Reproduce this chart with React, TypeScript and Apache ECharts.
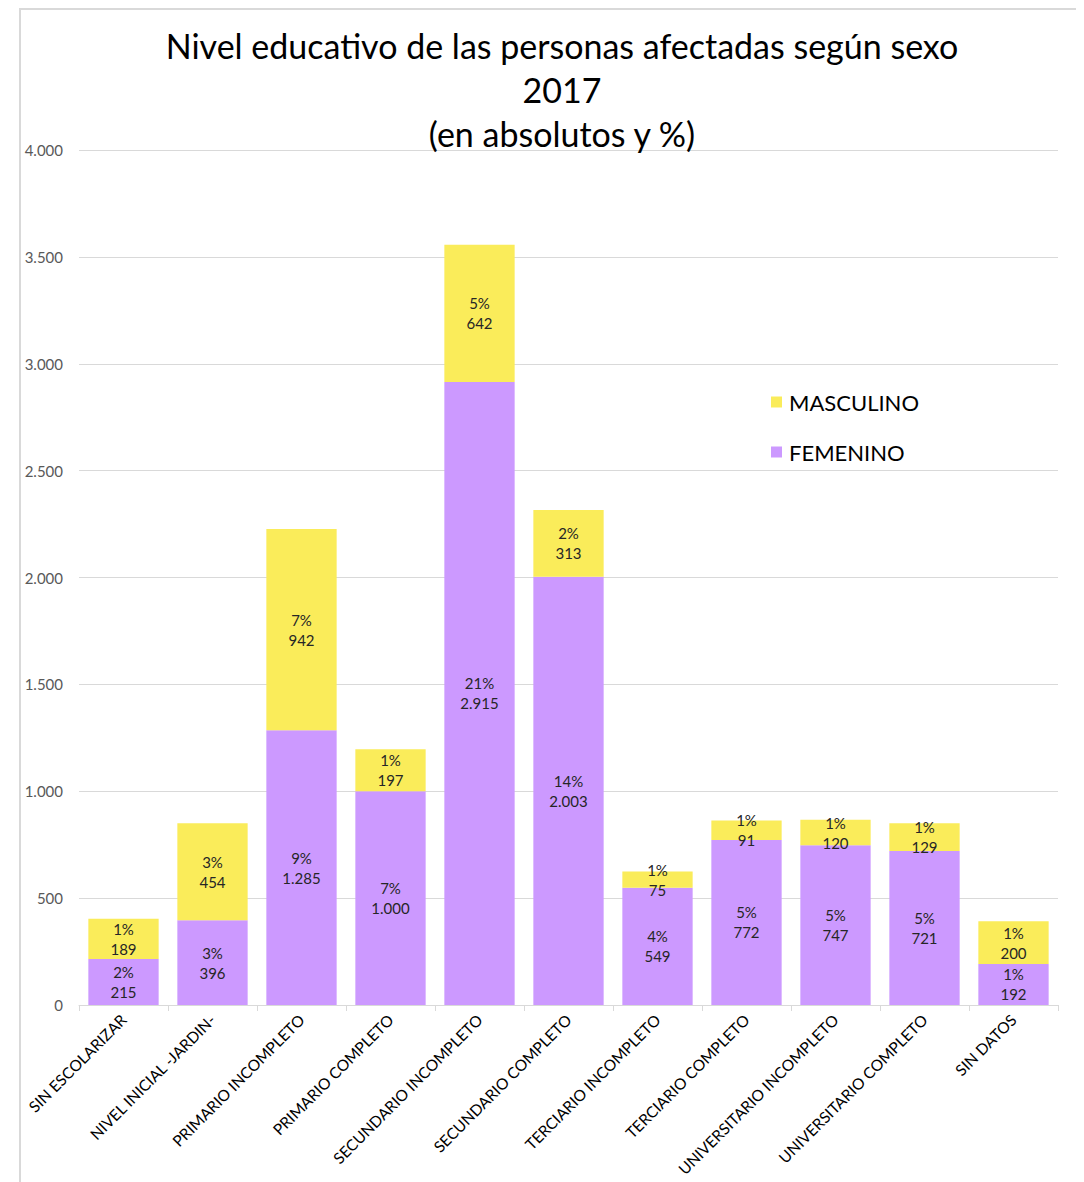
import React, { useEffect, useRef } from "react";
import * as echarts from "echarts";

const categories = [
  "SIN ESCOLARIZAR",
  "NIVEL INICIAL -JARDIN-",
  "PRIMARIO INCOMPLETO",
  "PRIMARIO COMPLETO",
  "SECUNDARIO INCOMPLETO",
  "SECUNDARIO COMPLETO",
  "TERCIARIO INCOMPLETO",
  "TERCIARIO COMPLETO",
  "UNIVERSITARIO INCOMPLETO",
  "UNIVERSITARIO COMPLETO",
  "SIN DATOS",
];
const femenino = [215, 396, 1285, 1000, 2915, 2003, 549, 772, 747, 721, 192];
const femeninoPct = [2, 3, 9, 7, 21, 14, 4, 5, 5, 5, 1];
const masculino = [189, 454, 942, 197, 642, 313, 75, 91, 120, 129, 200];
const masculinoPct = [1, 3, 7, 1, 5, 2, 1, 1, 1, 1, 1];
const yTicks = { min: 0, max: 4000, interval: 500 };

const FONT = "Lato, 'Open Sans', sans-serif";

const fmt = (v: number) =>
  String(Math.round(v)).replace(/\B(?=(\d{3})+(?!\d))/g, ".");

export default function App() {
  const ref = useRef<HTMLDivElement>(null);
  useEffect(() => {
    if (!ref.current) return;
    const chart = echarts.init(ref.current, undefined, { renderer: "svg" });
    const labelStyle = (pcts: number[]) => ({
      show: true,
      position: "inside" as const,
      color: "#262626",
      fontSize: 15,
      lineHeight: 20,
      fontFamily: FONT,
      formatter: (p: any) => `${pcts[p.dataIndex]}%\n${fmt(p.value)}`,
    });
    chart.setOption({
      animation: false,
      backgroundColor: "#ffffff",
      title: {
        text: "Nivel educativo de las personas afectadas según sexo\n2017\n(en absolutos y %)",
        left: 549,
        top: 10,
        textAlign: "center",
        textStyle: {
          fontFamily: FONT,
          fontSize: 34,
          lineHeight: 44,
          fontWeight: "normal",
          color: "#000000",
        },
      },
      legend: {
        orient: "vertical",
        left: 758,
        top: 378,
        itemWidth: 11,
        itemHeight: 11,
        itemGap: 28,
        icon: "rect",
        data: ["MASCULINO", "FEMENINO"],
        textStyle: { fontFamily: FONT, fontSize: 22, color: "#000000", padding: [0, 0, 0, 2] },
      },
      grid: {
        left: 71,
        right: 26,
        top: 142,
        bottom: 177,
        containLabel: false,
        outerBoundsMode: "none",
      },
      xAxis: {
        type: "category",
        data: categories,
        axisLine: { lineStyle: { color: "#d9d9d9", width: 1 } },
        axisTick: { show: true, alignWithLabel: false, length: 6, lineStyle: { color: "#d9d9d9" } },
        axisLabel: {
          rotate: 45,
          interval: 0,
          color: "#000000",
          fontSize: 15.5,
          fontFamily: FONT,
          margin: 12,
        },
      },
      yAxis: {
        type: "value",
        min: yTicks.min,
        max: yTicks.max,
        interval: yTicks.interval,
        axisLine: { show: false },
        axisTick: { show: false },
        splitLine: { lineStyle: { color: "#d9d9d9", width: 1 } },
        axisLabel: {
          color: "#595959",
          fontSize: 15,
          fontFamily: FONT,
          margin: 16,
          formatter: (v: number) => fmt(v),
        },
      },
      series: [
        {
          name: "FEMENINO",
          type: "bar",
          stack: "total",
          data: femenino,
          barCategoryGap: "21%",
          itemStyle: { color: "#cc99ff" },
          label: labelStyle(femeninoPct),
        },
        {
          name: "MASCULINO",
          type: "bar",
          stack: "total",
          data: masculino,
          barCategoryGap: "21%",
          itemStyle: { color: "#faec5a" },
          label: labelStyle(masculinoPct),
        },
      ],
      graphic: [
        {
          type: "line",
          shape: { x1: 11, y1: 1, x2: 1076, y2: 1 },
          style: { stroke: "#d9d9d9", lineWidth: 2 },
        },
        {
          type: "line",
          shape: { x1: 12, y1: 0, x2: 12, y2: 1174 },
          style: { stroke: "#d9d9d9", lineWidth: 2 },
        },
      ],
    });
    return () => chart.dispose();
  }, []);
  return <div ref={ref} style={{ width: 1076, height: 1174 }} />;
}
